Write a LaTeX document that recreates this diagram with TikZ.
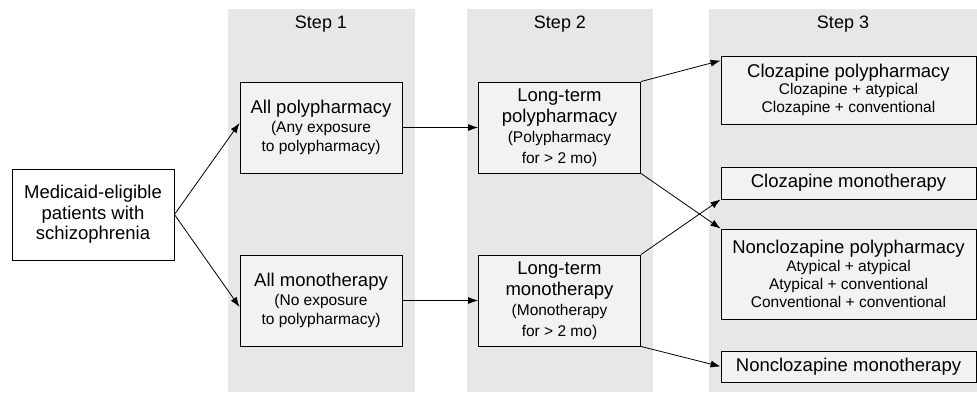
\documentclass[tikz,border=0pt]{standalone}
\usepackage{fontspec}
\setmainfont{Liberation Sans}
\usetikzlibrary{arrows.meta}
\definecolor{colgray}{RGB}{230,231,233}
\definecolor{boxgray}{RGB}{242,242,242}
\newcommand{\subtxt}[1]{{\fontsize{15.5}{18}\selectfont #1}}

\begin{document}
\begin{tikzpicture}[x=1pt, y=-1pt,
  box/.style={draw, fill=boxgray, line width=0.9pt, align=center, inner sep=0pt,
    minimum width=162pt, minimum height=91pt, font=\fontsize{18.5}{20.5}\selectfont},
  widebox/.style={box, minimum width=255pt},
  steplabel/.style={font=\fontsize{18}{20}\selectfont},
  link/.style={-{Latex[length=10pt,width=7pt]}, line width=0.8pt}]
  \useasboundingbox (0,0) rectangle (977,392);
  % step columns
  \fill[colgray] (228,9) rectangle (415,392);
  \fill[colgray] (467,9) rectangle (653,392);
  \fill[colgray] (709,9) rectangle (977,392);
  \node[steplabel] (step1) at (321,24) {Step 1};
  \node[steplabel] (step2) at (560,24) {Step 2};
  \node[steplabel] (step3) at (843,24) {Step 3};
  % boxes
  \node[box, fill=white] (med) at (93,214.5) {Medicaid-eligible\\patients with\\schizophrenia};
  \node[box] (allpoly) at (321,127.5) {All polypharmacy\\[-2pt]\subtxt{(Any exposure}\\[-1.5pt]\subtxt{to polypharmacy)}};
  \node[box] (allmono) at (321,300.5) {All monotherapy\\[-2pt]\subtxt{(No exposure}\\[-1.5pt]\subtxt{to polypharmacy)}};
  \node[box] (ltpoly) at (559.5,127.5) {Long-term\\polypharmacy\\\subtxt{(Polypharmacy}\\\subtxt{for > 2 mo)}};
  \node[box] (ltmono) at (559.5,300.5) {Long-term\\monotherapy\\\subtxt{(Monotherapy}\\\subtxt{for > 2 mo)}};
  \node[widebox, minimum height=68pt] (clzpoly) at (848.5,90) {Clozapine polypharmacy\\[-3pt]\subtxt{Clozapine + atypical}\\[-2.5pt]\subtxt{Clozapine + conventional}};
  \node[widebox, minimum height=32pt] (clzmono) at (848.5,183) {Clozapine monotherapy};
  \node[widebox, minimum height=90pt] (nclzpoly) at (848.5,274) {Nonclozapine polypharmacy\\[-3pt]\subtxt{Atypical + atypical}\\[-2.5pt]\subtxt{Atypical + conventional}\\[-2.5pt]\subtxt{Conventional + conventional}};
  \node[widebox, minimum height=31pt] (nclzmono) at (848.5,366.5) {Nonclozapine monotherapy};
  % arrows
  \draw[link] (med.east) -- ([yshift=4.5pt]allpoly.west);
  \draw[link] (med.east) -- ([yshift=-6.5pt]allmono.west);
  \draw[link] (allpoly.east) -- (ltpoly.west);
  \draw[link] (allmono.east) -- (ltmono.west);
  \draw[link] (ltpoly.north east) -- ([yshift=-5pt]clzpoly.north west);
  \draw[link] (ltpoly.south east) -- (nclzpoly.north west);
  \draw[link] (ltmono.north east) -- (clzmono.south west);
  \draw[link] (ltmono.south east) -- (nclzmono.west);
\end{tikzpicture}
\end{document}
